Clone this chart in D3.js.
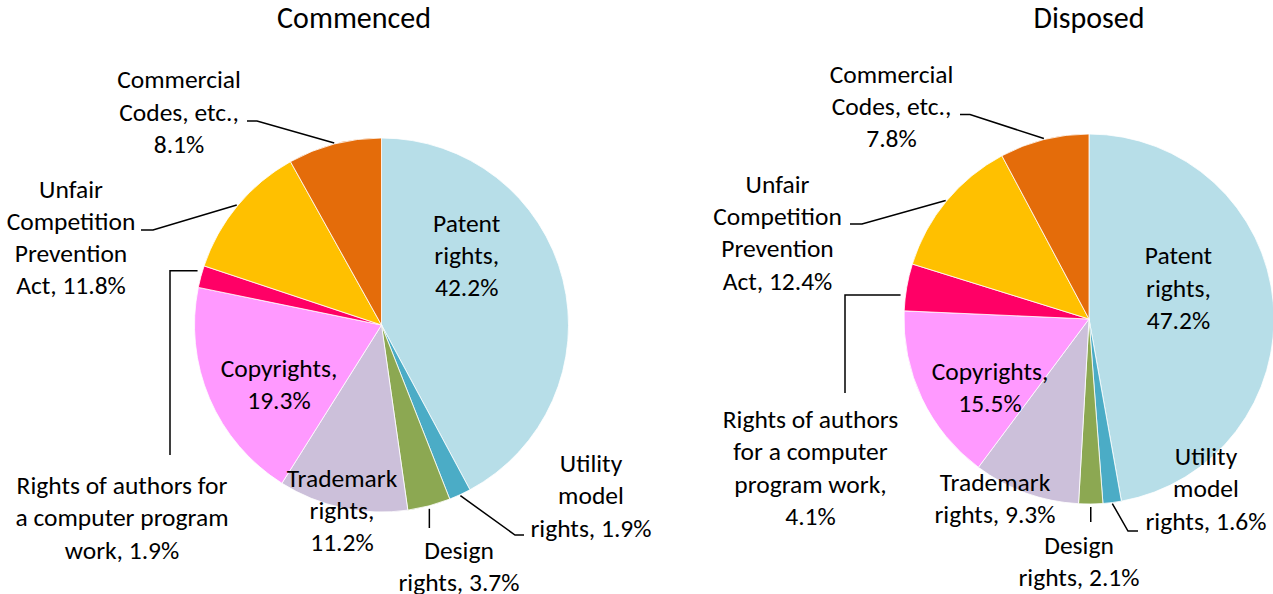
<!DOCTYPE html>
<html>
<head>
<meta charset="utf-8">
<script src="https://cdn.jsdelivr.net/npm/d3@7"></script>
<style>
  body { margin: 0; background: #fff; }
  svg text { font-family: Carlito, Lato, "Open Sans", sans-serif; fill: #000; }
</style>
</head>
<body>
<div id="chart"></div>
<script>

// data
var categories = ["Patent rights", "Utility model rights", "Design rights", "Trademark rights",
    "Copyrights", "Rights of authors for a computer program work",
    "Unfair Competition Prevention Act", "Commercial Codes, etc."];
var chartTitles = ["Commenced", "Disposed"];
var commencedValues = [42.2, 1.9, 3.7, 11.2, 19.3, 1.9, 11.8, 8.1];
var disposedValues = [47.2, 1.6, 2.1, 9.3, 15.5, 4.1, 12.4, 7.8];

// label text, "{v}" gets the value
var commencedLines = [
    ["Patent", "rights,", "{v}"],
    ["Utility", "model", "rights, {v}"],
    ["Design", "rights, {v}"],
    ["Trademark", "rights,", "{v}"],
    ["Copyrights,", "{v}"],
    ["Rights of authors for", "a computer program", "work, {v}"],
    ["Unfair", "Competition", "Prevention", "Act, {v}"],
    ["Commercial", "Codes, etc.,", "{v}"]
];
var disposedLines = [
    ["Patent", "rights,", "{v}"],
    ["Utility", "model", "rights, {v}"],
    ["Design", "rights, {v}"],
    ["Trademark", "rights, {v}"],
    ["Copyrights,", "{v}"],
    ["Rights of authors", "for a computer", "program work,", "{v}"],
    ["Unfair", "Competition", "Prevention", "Act, {v}"],
    ["Commercial", "Codes, etc.,", "{v}"]
];

var colors = ["#b7dee8", "#4bacc6", "#8ca852", "#ccc0da", "#ff99ff", "#ff0066", "#ffc000", "#e46c0a"];

var W = 1273, H = 594;
var fontSize = 25.5, lineH = 32.3;

// layout: label anchor (x, first baseline) and leaders
// leader: "diag" -> label end, elbow, arc; "vert" -> straight down from arc; "hook" -> horizontal then down
var layouts = [
    {
        cx: 381.5, cy: 325, r: 187, titleX: 354,
        labels: [[466.7, 231.7], [591, 472], [459, 559], [342, 486.7], [279, 376.7],
                 [122, 494], [71, 197.5], [179, 88.3]],
        leaders: [null,
            { type: "diag", pts: [[524, 535], [515, 535]] },
            { type: "vert", y2: 528 },
            null, null,
            { type: "hook", y: 270.7, x: 170, y2: 455 },
            { type: "diag", pts: [[141, 230], [153, 230]] },
            { type: "diag", pts: [[247, 121], [257, 121]] }]
    },
    {
        cx: 1089, cy: 319, r: 185, titleX: 1089,
        labels: [[1178.5, 264.3], [1206, 465], [1079, 553.5], [995, 490.7], [990, 380],
                 [810.5, 428], [777.5, 192.7], [891.5, 82.7]],
        leaders: [null,
            { type: "diag", pts: [[1138, 531], [1128, 531]] },
            { type: "vert", y2: 522 },
            null, null,
            { type: "hook", y: 295, x: 845, y2: 393 },
            { type: "diag", pts: [[850, 224], [862, 224]] },
            { type: "diag", pts: [[960, 114.5], [970, 114.5]] }]
    }
];

var svg = d3.select("#chart").append("svg")
    .attr("width", W)
    .attr("height", H);

var pie = d3.pie().sort(null).value(function(d) { return d; });

function drawPie(i, values, lines) {
    var lay = layouts[i];
    var g = svg.append("g")
        .attr("transform", "translate(" + lay.cx + "," + lay.cy + ")");

    var arcs = pie(values);
    var arc = d3.arc().innerRadius(0).outerRadius(lay.r);
    var edge = d3.arc().innerRadius(lay.r + 1).outerRadius(lay.r + 1);

    g.selectAll("path.slice")
        .data(arcs)
        .enter().append("path")
        .attr("class", "slice")
        .attr("d", arc)
        .attr("fill", function(d, j) { return colors[j]; })
        .attr("stroke", "#fff")
        .attr("stroke-width", 0.8);

    // leader lines
    arcs.forEach(function(d, j) {
        var ld = lay.leaders[j];
        if (!ld) return;
        var c = edge.centroid(d);
        var p = [c[0] + lay.cx, c[1] + lay.cy];
        var pts;
        if (ld.type === "diag") {
            pts = ld.pts.concat([p]);
        } else if (ld.type === "vert") {
            pts = [[p[0], p[1] + 2], [p[0], ld.y2]];
        } else {
            // horizontal line meets the pie edge at ld.y
            var dy = ld.y - lay.cy;
            var ex = lay.cx - Math.sqrt(lay.r * lay.r - dy * dy) - 5;
            pts = [[ex, ld.y], [ld.x, ld.y], [ld.x, ld.y2]];
        }
        svg.append("path")
            .attr("d", d3.line()(pts))
            .attr("fill", "none")
            .attr("stroke", "#000")
            .attr("stroke-width", 1.5);
    });

    // labels
    arcs.forEach(function(d, j) {
        var t = svg.append("text")
            .attr("text-anchor", "middle")
            .attr("font-size", fontSize);
        lines[j].forEach(function(s, k) {
            t.append("tspan")
                .attr("x", lay.labels[j][0])
                .attr("y", lay.labels[j][1] + k * lineH)
                .text(s.replace("{v}", d.value.toFixed(1) + "%"));
        });
    });

    svg.append("text")
        .attr("x", lay.titleX)
        .attr("y", 28)
        .attr("text-anchor", "middle")
        .attr("font-size", 30)
        .text(chartTitles[i]);
}

drawPie(0, commencedValues, commencedLines);
drawPie(1, disposedValues, disposedLines);

</script>
</body>
</html>
